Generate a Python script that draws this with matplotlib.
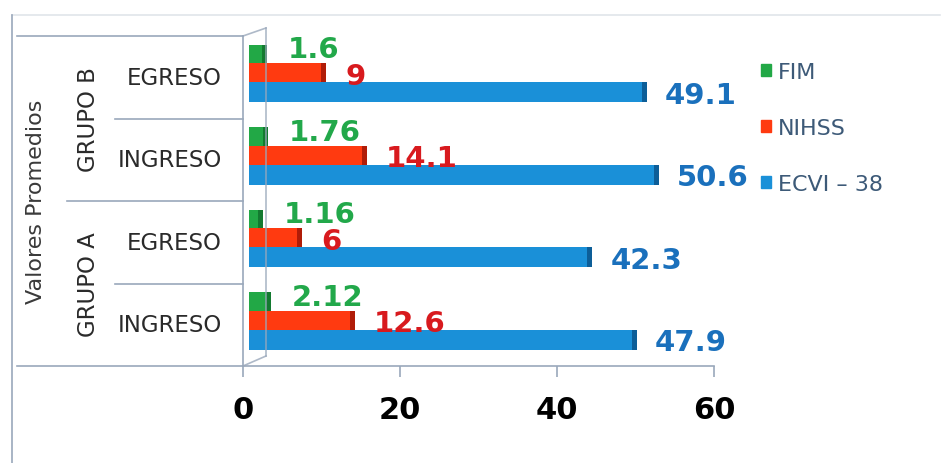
import matplotlib
matplotlib.use("Agg")
import matplotlib.pyplot as plt
from matplotlib.lines import Line2D
import matplotlib.patches as mpatches

# ---- data ----
categories = ["INGRESO", "EGRESO", "INGRESO", "EGRESO"]
groups = ["GRUPO A", "GRUPO B"]
series_names = ["FIM", "NIHSS", "ECVI – 38"]
fim = [2.12, 1.16, 1.76, 1.6]
nihss = [12.6, 6, 14.1, 9]
ecvi = [47.9, 42.3, 50.6, 49.1]
x_ticks = [0, 20, 40, 60]
axis_title = "Valores Promedios"

# ---- style ----
W, H = 946, 464
DPI = 100
green, green_d = "#22a846", "#137a30"
red, red_d = "#ff3a10", "#b01c08"
blue, blue_d = "#1a90d8", "#0d5e98"
green_t, red_t, blue_t = "#22a84a", "#d81a1e", "#1a70bc"
grid_c = "#9aa8bb"
legend_t = "#3d5a78"

fig = plt.figure(figsize=(W / DPI, H / DPI), dpi=DPI)
fig.patch.set_facecolor("white")

def fx(px):
    return px / W

def fy(py):
    return 1 - py / H

ax_l, ax_r, ax_t, ax_b = 243, 714, 37, 367
ax = fig.add_axes([fx(ax_l), fy(ax_b), fx(ax_r - ax_l), fy(ax_t) - fy(ax_b)])
ax.set_xlim(x_ticks[0], x_ticks[-1])
ax.set_ylim(-0.5, len(categories) - 0.5)
ax.set_xticks(x_ticks)
ax.set_xticklabels([str(t) for t in x_ticks], fontsize=22, fontweight="bold")
ax.set_yticks([])
for s in ["top", "right"]:
    ax.spines[s].set_visible(False)
ax.spines["left"].set_color(grid_c)
ax.spines["bottom"].set_color(grid_c)
ax.spines["left"].set_linewidth(1.2)
ax.spines["bottom"].set_linewidth(1.2)
ax.tick_params(axis="x", direction="out", length=8, width=1.2, color=grid_c, pad=13)
ax.patch.set_alpha(0)

# bars axis with perspective-like scale
px_per_unit = 8.0
zero_px = 249
a = -(zero_px - ax_l) / px_per_unit
b = a + (ax_r - ax_l) / px_per_unit
ax2 = fig.add_axes(ax.get_position(), sharey=ax)
ax2.set_xlim(a, b)
ax2.axis("off")

ypos = list(range(len(categories)))
h = 0.24
offs = [0.275, 0.05, -0.18]
side = 0.6
label_dy = [4, -2, -2]
label_dx = [15, 14, 13]
for k, (vals, off, c, cd, tc) in enumerate([(fim, offs[0], green, green_d, green_t),
                                             (nihss, offs[1], red, red_d, red_t),
                                             (ecvi, offs[2], blue, blue_d, blue_t)]):
    ys = [y + off for y in ypos]
    ax2.barh(ys, vals, height=h, color=c, edgecolor="none", zorder=3)
    ax2.barh(ys, [side] * len(vals), left=vals, height=h, color=cd,
             edgecolor="none", zorder=3)
    for y, v in zip(ys, vals):
        lbl = ("%g" % v)
        ax2.annotate(lbl, (v + side, y), xytext=(label_dx[k], label_dy[k]),
                     textcoords="offset points",
                     ha="left", va="center", fontsize=21, fontweight="bold",
                     color=tc, zorder=5)

# category separators and labels (figure coordinates)
cat_h = (ax_b - ax_t) / len(categories)
def line(x0, y0, x1, y1, **kw):
    fig.add_artist(Line2D([fx(x0), fx(x1)], [fy(y0), fy(y1)], color=grid_c, lw=1.2, **kw))

line(17, ax_t, ax_l, ax_t)
line(17, ax_b, ax_l, ax_b)
line(67, ax_t + 2 * cat_h, ax_l, ax_t + 2 * cat_h)
line(115, ax_t + cat_h, ax_l, ax_t + cat_h)
line(115, ax_t + 3 * cat_h, ax_l, ax_t + 3 * cat_h)

# 3D wall outline
line(ax_l, ax_t, 266, 29, alpha=0.8)
line(266, 29, 266, 357, alpha=0.8)
line(266, 357, ax_l, ax_b, alpha=0.8)

# outer frame
line(12, 16, 940, 16, alpha=0.3)
line(12, 16, 12, 464)

for i, cat in enumerate(categories):
    yc = ax_b - (i + 0.5) * cat_h
    fig.text(fx(222), fy(yc), cat, ha="right", va="center", fontsize=16.5, color="#2a2a2a")
for gi, g in enumerate(groups):
    yc = ax_b - (gi * 2 + 1) * cat_h
    fig.text(fx(88), fy(yc), g, ha="center", va="center", rotation=90,
             fontsize=16.5, color="#2a2a2a")
fig.text(fx(36), fy(ax_t + 2 * cat_h), axis_title, ha="center", va="center",
         rotation=90, fontsize=16, color="#3a3a3a")

# legend
handles = [mpatches.Patch(color=c) for c in [green, red, blue]]
leg = fig.legend(handles, series_names, loc="upper left",
                 bbox_to_anchor=(fx(752), fy(54)), frameon=False,
                 fontsize=16, handlelength=0.45, handleheight=0.45,
                 handletextpad=0.3, labelspacing=1.62, borderaxespad=0)
for t in leg.get_texts():
    t.set_color(legend_t)

fig.savefig("out.png", dpi=DPI, facecolor="white")
